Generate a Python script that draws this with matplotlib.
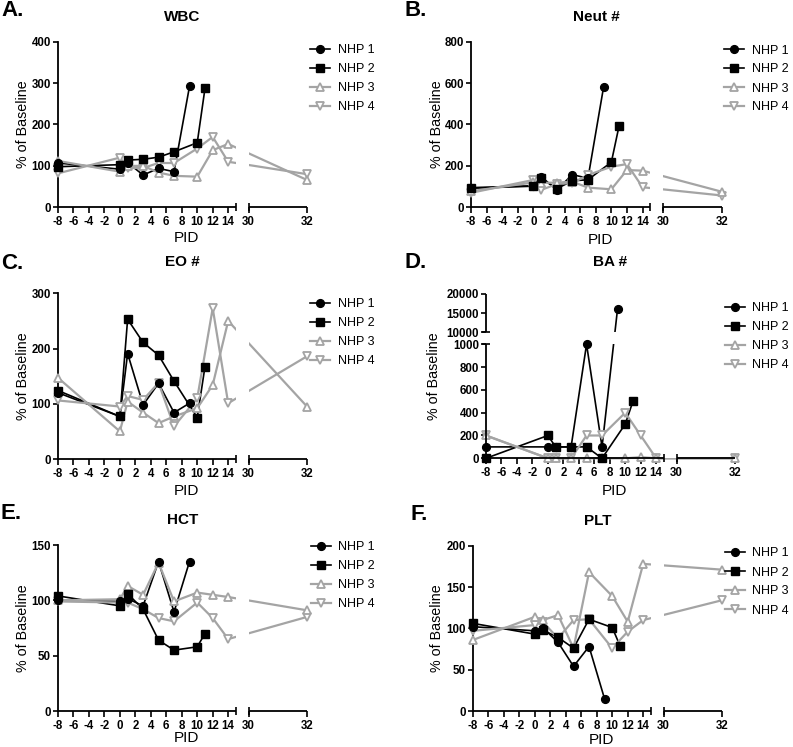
import numpy as np
import matplotlib
matplotlib.use('Agg')
import matplotlib.pyplot as plt
from matplotlib.lines import Line2D

plt.rcParams['font.family'] = ['Liberation Sans', 'DejaVu Sans']
plt.rcParams['axes.unicode_minus'] = False

# post-infection day (PID) sampled for each animal
pid_nhp1 = [-8, 0, 1, 3, 5, 7, 9]
pid_nhp2 = [-8, 0, 1, 3, 5, 7, 10, 11]
pid_nhp3 = [-8, 0, 1, 3, 5, 7, 10, 12, 14, 32]
pid_nhp4 = [-8, 0, 1, 3, 5, 7, 10, 12, 14, 32]

# % of baseline values
wbc_nhp1 = [107, 92, 108, 78, 94, 86, 292]
wbc_nhp2 = [98, 103, 114, 116, 121, 134, 156, 287]
wbc_nhp3 = [112, 86, 100, 100, 84, 76, 74, 138, 153, 66]
wbc_nhp4 = [82, 120, 95, 95, 107, 107, 142, 170, 110, 80]

neut_nhp1 = [95, 104, 148, 84, 158, 140, 580]
neut_nhp2 = [92, 102, 140, 90, 128, 133, 218, 395]
neut_nhp3 = [78, 120, 118, 119, 124, 95, 87, 180, 177, 75]
neut_nhp4 = [70, 132, 84, 112, 118, 156, 196, 209, 97, 57]

eo_nhp1 = [120, 77, 191, 98, 137, 84, 101]
eo_nhp2 = [124, 77, 253, 211, 188, 141, 75, 167]
eo_nhp3 = [147, 50, 104, 84, 65, 77, 92, 134, 250, 95]
eo_nhp4 = [106, 95, 114, 107, 138, 59, 110, 273, 101, 186]

ba_nhp1 = [100, 100, 100, 100, 1000, 100, 16000]
ba_nhp2 = [0, 200, 100, 100, 100, 0, 300, 500]
ba_nhp3 = [200, 0, 0, 0, 0, 0, 0, 10, 0, 0]
ba_nhp4 = [200, 0, 0, 0, 200, 200, 400, 200, 0, 0]

hct_nhp1 = [100, 99, 101.5, 95, 135, 89.5, 135]
hct_nhp2 = [104, 95, 106, 92, 64, 55, 58, 70]
hct_nhp3 = [100, 101, 113, 105, 134, 99, 107, 105, 103, 91]
hct_nhp4 = [99, 98, 98, 92, 84, 81, 98, 84, 65, 85]

pltc_nhp1 = [102, 97, 101, 83, 54, 78, 15]
pltc_nhp2 = [106, 93, 98, 89, 76, 111, 101, 79]
pltc_nhp3 = [86, 114, 110, 116, 76, 168, 139, 108, 178, 171]
pltc_nhp4 = [97, 104, 108, 88, 110, 111, 76, 96, 110, 134]

animals = ['NHP 1', 'NHP 2', 'NHP 3', 'NHP 4']
pids = [pid_nhp1, pid_nhp2, pid_nhp3, pid_nhp4]

x_ticks = [-8, -6, -4, -2, 0, 2, 4, 6, 8, 10, 12, 14, 30, 32]
x_ticklabels = ['-8', '-6', '-4', '-2', '0', '2', '4', '6', '8', '10', '12', '14', '30', '32']

W, H = 793, 747
fig = plt.figure(figsize=(W / 100, H / 100), dpi=100)

GREY = '#a4a4a4'
styles = [
    dict(color='black', marker='o', ms=5.6, mfc='black', lw=1.2, mew=1.0, z=4.6),
    dict(color='black', marker='s', ms=5.4, mfc='black', lw=1.2, mew=1.0, z=4.4),
    dict(color=GREY, marker='^', ms=6.3, mfc='white', lw=1.6, mew=1.3, z=4.2),
    dict(color=GREY, marker='v', ms=6.3, mfc='white', lw=1.6, mew=1.3, z=4.0),
]

# broken x axis: -8..15 as is, 15..30 squeezed to a small gap, 30..32 stretched
GAP_X, K_X = 1.63, 3.78


def fwd_x(x):
    x = np.asarray(x, dtype=float)
    return np.where(x <= 15, x,
                    np.where(x < 30, 15 + (x - 15) * GAP_X / 15,
                             15 + GAP_X + (x - 30) * K_X))


def inv_x(u):
    u = np.asarray(u, dtype=float)
    return np.where(u <= 15, u,
                    np.where(u < 15 + GAP_X, 15 + (u - 15) * 15 / GAP_X,
                             30 + (u - 15 - GAP_X) / K_X))


# broken y axis for BA #: 0..1000 as is, then 10000..20000 compressed
GAP_Y, K_Y = 105.0, 0.0336


def fwd_y(y):
    y = np.asarray(y, dtype=float)
    return np.where(y <= 1000, y,
                    np.where(y < 10000, 1000 + (y - 1000) * GAP_Y / 9000,
                             1000 + GAP_Y + (y - 10000) * K_Y))


def inv_y(v):
    v = np.asarray(v, dtype=float)
    return np.where(v <= 1000, v,
                    np.where(v < 1000 + GAP_Y, 1000 + (v - 1000) * 9000 / GAP_Y,
                             10000 + (v - 1000 - GAP_Y) / K_Y))


def panel(box, letter, letter_xy, title, title_y, series, yticks, ylim, leg_xy,
          ylab_x, xlab_y, ybreak=False):
    l, t, r, b = box  # pixels
    ax = fig.add_axes([l / W, 1 - b / H, (r - l) / W, (b - t) / H])
    ax.set_xscale('function', functions=(fwd_x, inv_x))
    if ybreak:
        ax.set_yscale('function', functions=(fwd_y, inv_y))
    ax.set_xlim(-8, 32)
    ax.set_ylim(*ylim)

    handles = []
    for x, y, st, name in zip(pids, series, styles, animals):
        ax.plot(x, y, '-', color=st['color'], lw=st['lw'], zorder=2, clip_on=False)
        ax.plot(x, y, ls='none', marker=st['marker'], ms=st['ms'], mfc=st['mfc'],
                mec=st['color'], mew=st['mew'], zorder=st['z'], clip_on=False)
        handles.append(Line2D([], [], color=st['color'], lw=st['lw'], marker=st['marker'],
                              ms=st['ms'], mfc=st['mfc'], mec=st['color'], mew=st['mew'],
                              label=name))

    # blank out the lines inside the axis breaks
    ax.axvspan(15, 30, color='white', lw=0, zorder=3)
    if ybreak:
        ax.axhspan(1000, 10000, color='white', lw=0, zorder=3)

    for s in ['top', 'right', 'bottom']:
        ax.spines[s].set_visible(False)
    xt = ax.get_xaxis_transform()
    for seg in [(-8, 15), (30, 32)]:
        ax.plot(seg, [0, 0], color='black', lw=1.3, transform=xt, clip_on=False,
                zorder=5, solid_capstyle='butt')
    ax.plot([15, 30], [0, 0], ls='none', marker='|', ms=5.5, mew=1.2, color='black',
            transform=xt, clip_on=False, zorder=5)
    if ybreak:
        ax.spines['left'].set_visible(False)
        yt = ax.get_yaxis_transform()
        for seg in [(0, 1000), (10000, 20000)]:
            ax.plot([0, 0], seg, color='black', lw=1.3, transform=yt, clip_on=False,
                    zorder=5, solid_capstyle='butt')
        ax.plot([0, 0], [1000, 10000], ls='none', marker='_', ms=5.5, mew=1.2,
                color='black', transform=yt, clip_on=False, zorder=5)
    else:
        ax.spines['left'].set_linewidth(1.3)

    ax.set_xticks(x_ticks)
    ax.set_xticklabels(x_ticklabels)
    ax.set_yticks(yticks)
    ax.set_yticklabels([str(v) for v in yticks])
    ax.minorticks_off()
    ax.tick_params(axis='x', length=4.3, width=1.2, pad=2, labelsize=8.3)
    ax.tick_params(axis='y', length=3.6, width=1.2, pad=1.5, labelsize=8.3)
    for lbl in ax.get_xticklabels() + ax.get_yticklabels():
        lbl.set_fontweight('bold')

    ax.set_xlabel('PID', fontsize=11, va='center')
    ax.xaxis.set_label_coords(0.5 + 4 / (r - l), (b - xlab_y) / (b - t))
    ax.set_ylabel('% of Baseline', fontsize=10.3, va='center', ha='center')
    ax.yaxis.set_label_coords((ylab_x - l) / (r - l), 0.5)

    ax.text(0.5, (b - title_y) / (b - t), title, transform=ax.transAxes,
            fontsize=11, fontweight='bold', ha='center', va='center')

    fig.text(letter_xy[0] / W, 1 - letter_xy[1] / H, letter, fontsize=16,
             fontweight='bold', ha='left', va='center')

    ax.legend(handles=handles, loc='upper left',
              bbox_to_anchor=(leg_xy[0] / W, 1 - leg_xy[1] / H),
              bbox_transform=fig.transFigure, frameon=False, fontsize=9,
              handlelength=1.6, handletextpad=0.6, labelspacing=0.56,
              borderpad=0, borderaxespad=0)
    return ax


panel((58, 41.7, 307, 207.3), 'A.', (1, 11), 'WBC', 17,
      [wbc_nhp1, wbc_nhp2, wbc_nhp3, wbc_nhp4], [0, 100, 200, 300, 400], (0, 400),
      (310, 44), 23, 238)
panel((471, 41.7, 722, 207.3), 'B.', (405, 11), 'Neut #', 17,
      [neut_nhp1, neut_nhp2, neut_nhp3, neut_nhp4], [0, 200, 400, 600, 800], (0, 800),
      (724, 44.5), 437, 240)
panel((58, 293.3, 307, 459), 'C.', (1, 263.5), 'EO #', 262,
      [eo_nhp1, eo_nhp2, eo_nhp3, eo_nhp4], [0, 100, 200, 300], (0, 300),
      (310, 298), 23, 491)
panel((486, 294, 735, 458.3), 'D.', (405, 262.5), 'BA #', 262,
      [ba_nhp1, ba_nhp2, ba_nhp3, ba_nhp4],
      [0, 200, 400, 600, 800, 1000, 10000, 15000, 20000], (0, 20000),
      (725, 302.5), 434, 491, ybreak=True)
panel((58, 545, 307, 711), 'E.', (1, 513.5), 'HCT', 520,
      [hct_nhp1, hct_nhp2, hct_nhp3, hct_nhp4], [0, 50, 100, 150], (0, 150),
      (311, 541), 23, 738)
panel((473, 545.7, 722, 711), 'F.', (410, 514), 'PLT', 521,
      [pltc_nhp1, pltc_nhp2, pltc_nhp3, pltc_nhp4], [0, 50, 100, 150, 200], (0, 200),
      (725, 547.5), 437, 740)

fig.savefig('out.png', dpi=100)
